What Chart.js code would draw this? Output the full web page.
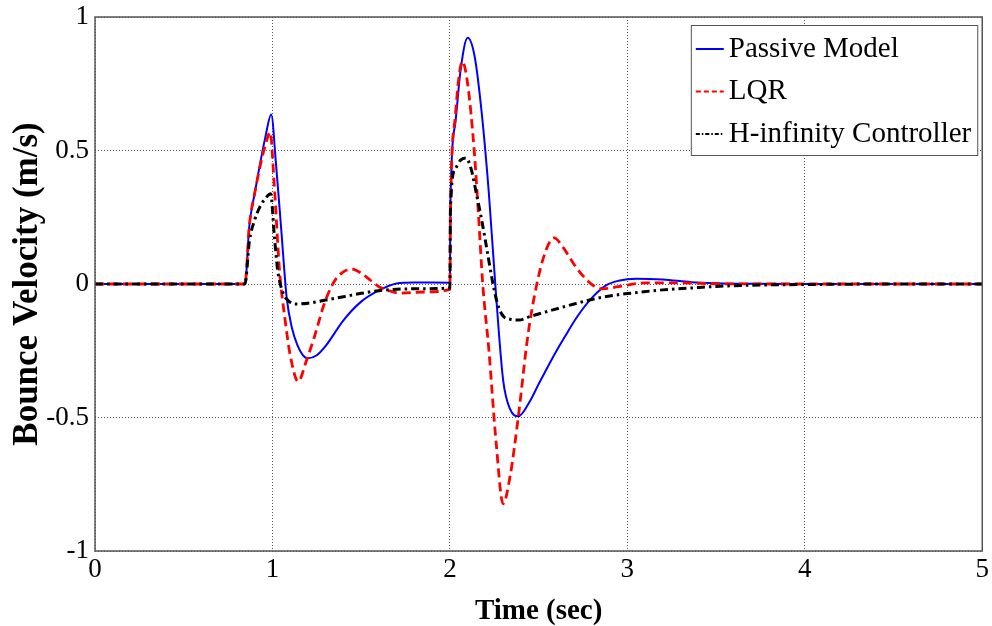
<!DOCTYPE html>
<html>
<head>
<meta charset="utf-8">
<title>Bounce Velocity</title>
<script src="https://cdn.jsdelivr.net/npm/chart.js@4.4.1/dist/chart.umd.min.js"></script>
<style>
	html, body { margin: 0; padding: 0; background: #fff; }
	#wrap { position: relative; width: 992px; height: 626px; }
</style>
</head>
<body>
<div id="wrap"><canvas id="bounce"></canvas></div>
<script>
(function () {
	'use strict';

	// --- Data (time in sec, velocity in m/s) ---
	var passiveT = [0, 0.845, 0.87, 0.9, 0.93, 0.96, 0.993, 1.02, 1.05, 1.08, 1.11, 1.14, 1.17, 1.2, 1.25, 1.3, 1.4, 1.5, 1.6, 1.7, 1.8,
		2.0, 2.003, 2.03, 2.06, 2.1, 2.14, 2.18, 2.22, 2.26, 2.3, 2.34, 2.386, 2.45, 2.5, 2.58, 2.65, 2.72, 2.8, 2.88, 2.95, 3.05,
		3.2, 3.36, 3.5, 3.7, 4.0, 5.0];
	var passiveV = [0, 0, 0.22, 0.34, 0.45, 0.55, 0.635, 0.45, 0.2, -0.05, -0.165, -0.228, -0.265, -0.278, -0.267, -0.232, -0.136, -0.066, -0.024, 0.002, 0.006,
		0.005, 0.30, 0.60, 0.80, 0.922, 0.85, 0.636, 0.336, -0.04, -0.36, -0.47, -0.495, -0.44, -0.375, -0.275, -0.195, -0.12, -0.052, -0.005, 0.012, 0.02,
		0.017, 0.007, 0.003, 0.001, 0, 0];

	var lqrT = [0, 0.845, 0.87, 0.9, 0.93, 0.96, 0.987, 1.01, 1.04, 1.07, 1.1, 1.145, 1.19, 1.24, 1.29, 1.34, 1.39, 1.445, 1.5, 1.55, 1.6,
		1.66, 1.72, 1.85, 2.0, 2.003, 2.03, 2.05, 2.07, 2.1, 2.137, 2.16, 2.185, 2.22, 2.26, 2.3, 2.34, 2.385, 2.44, 2.49, 2.54, 2.587,
		2.64, 2.7, 2.76, 2.8, 2.86, 2.95, 3.1, 3.3, 3.5, 4.0, 5.0];
	var lqrV = [0, 0, 0.22, 0.34, 0.44, 0.52, 0.568, 0.373, 0.049, -0.128, -0.266, -0.365, -0.29, -0.19, -0.078, 0.0, 0.041, 0.056, 0.041, 0.015, -0.01,
		-0.026, -0.034, -0.03, -0.02, 0.25, 0.624, 0.77, 0.833, 0.75, 0.5, 0.27, 0.0, -0.25, -0.59, -0.823, -0.717, -0.5, -0.19, 0.0, 0.124, 0.173,
		0.135, 0.073, 0.023, -0.002, -0.018, -0.01, 0.004, 0.004, 0.001, 0, 0];

	var hinfT = [0, 0.845, 0.87, 0.9, 0.93, 0.96, 0.99, 1.01, 1.03, 1.06, 1.09, 1.134, 1.2, 1.3, 1.4, 1.5, 1.6, 1.8, 2.0, 2.003, 2.03,
		2.06, 2.09, 2.12, 2.15, 2.18, 2.21, 2.24, 2.27, 2.3, 2.34, 2.39, 2.45, 2.58, 2.7, 2.8, 2.9, 3.0, 3.2, 3.36, 3.5, 3.74,
		4.0, 4.5, 5.0];
	var hinfV = [0, 0, 0.16, 0.24, 0.29, 0.32, 0.338, 0.185, 0.049, -0.034, -0.063, -0.075, -0.072, -0.06, -0.048, -0.035, -0.025, -0.018, -0.015, 0.28, 0.43,
		0.464, 0.472, 0.43, 0.336, 0.237, 0.124, 0.01, -0.078, -0.12, -0.132, -0.135, -0.122, -0.097, -0.075, -0.058, -0.045, -0.036, -0.022, -0.015, -0.009, -0.004,
		-0.002, 0, 0];

	var xTicks = [0, 1, 2, 3, 4, 5];
	var yTicks = [-1, -0.5, 0, 0.5, 1];

	var SERIF = '"Liberation Serif", "Times New Roman", serif';

	function pts(t, v) {
		return t.map(function (x, i) { return { x: x, y: v[i] }; });
	}

	// MATLAB-style frame around the plot area.
	var frame = {
		id: 'frame',
		afterDatasetsDraw: function (chart) {
			var a = chart.chartArea, ctx = chart.ctx;
			ctx.save();
			ctx.strokeStyle = '#555';
			ctx.lineWidth = 1.5;
			ctx.strokeRect(a.left, a.top, a.right - a.left, a.bottom - a.top);
			ctx.restore();
		}
	};

	// Boxed legend in the top-right corner of the plot.
	var legendBox = {
		id: 'legendBox',
		afterDraw: function (chart) {
			var a = chart.chartArea, ctx = chart.ctx;
			var sets = chart.data.datasets;
			var samples = [[], [5, 3], [4, 2, 1.5, 2]];
			ctx.save();
			ctx.font = '29px ' + SERIF;
			var textW = Math.max.apply(null, sets.map(function (d) { return ctx.measureText(d.label).width; }));
			var w = textW + 44, h = 130;
			var x = a.right - 5 - w, y = a.top + 8;
			ctx.fillStyle = '#fff';
			ctx.fillRect(x, y, w, h);
			ctx.strokeStyle = '#555';
			ctx.lineWidth = 1;
			ctx.strokeRect(x + 0.5, y + 0.5, w, h);
			sets.forEach(function (d, i) {
				var cy = y + 24 + i * 42.5;
				ctx.strokeStyle = d.borderColor;
				ctx.lineWidth = 2;
				ctx.setLineDash(samples[i] || []);
				ctx.beginPath();
				ctx.moveTo(x + 5, cy);
				ctx.lineTo(x + 33, cy);
				ctx.stroke();
				ctx.setLineDash([]);
				ctx.fillStyle = '#000';
				ctx.textBaseline = 'middle';
				ctx.fillText(d.label, x + 38, cy);
			});
			ctx.restore();
		}
	};

	new Chart(document.getElementById('bounce'), {
		type: 'line',
		data: {
			datasets: [
				{ label: 'Passive Model', data: pts(passiveT, passiveV), borderColor: '#0000FF', borderWidth: 2, order: 3 },
				{ label: 'LQR', data: pts(lqrT, lqrV), borderColor: '#FF0000', borderWidth: 2.8, borderDash: [9, 5], order: 2 },
				{ label: 'H-infinity Controller', data: pts(hinfT, hinfV), borderColor: '#000000', borderWidth: 3, borderDash: [8, 4, 2.5, 4], order: 1 }
			]
		},
		options: {
			responsive: true,
			maintainAspectRatio: false,
			animation: false,
			layout: { padding: { top: 17, right: 8, left: 0, bottom: 0 } },
			elements: {
				point: { radius: 0 },
				line: { cubicInterpolationMode: 'monotone', fill: false }
			},
			plugins: {
				legend: { display: false },
				tooltip: { enabled: false }
			},
			scales: {
				x: {
					type: 'linear',
					min: 0,
					max: 5,
					afterBuildTicks: function (s) { s.ticks = xTicks.map(function (v) { return { value: v }; }); },
					afterFit: function (s) { s.height = 75; },
					ticks: { color: '#000', padding: 3, font: { family: SERIF, size: 27 }, maxRotation: 0 },
					grid: { color: 'rgba(0,0,0,0.65)', lineWidth: 1, drawTicks: false },
					border: { display: false, dash: [1, 2] },
					title: { display: true, text: 'Time (sec)', color: '#000', padding: { top: 8, bottom: 0 }, font: { family: SERIF, size: 29, weight: 'bold', lineHeight: 1 } }
				},
				y: {
					min: -1,
					max: 1,
					afterBuildTicks: function (s) { s.ticks = yTicks.map(function (v) { return { value: v }; }); },
					afterFit: function (s) { s.width = 95; s.paddingTop = 0; s.paddingBottom = 0; },
					ticks: { color: '#000', padding: 6, font: { family: SERIF, size: 27, lineHeight: 1 }, callback: function (v) { return String(v); } },
					grid: { color: 'rgba(0,0,0,0.65)', lineWidth: 1, drawTicks: false },
					border: { display: false, dash: [1, 2] },
					title: { display: true, text: 'Bounce Velocity (m/s)', color: '#000', padding: { top: 10, bottom: 0 }, font: { family: SERIF, size: 35, weight: 'bold', lineHeight: 1 } }
				}
			}
		},
		plugins: [frame, legendBox]
	});
})();
</script>
</body>
</html>
